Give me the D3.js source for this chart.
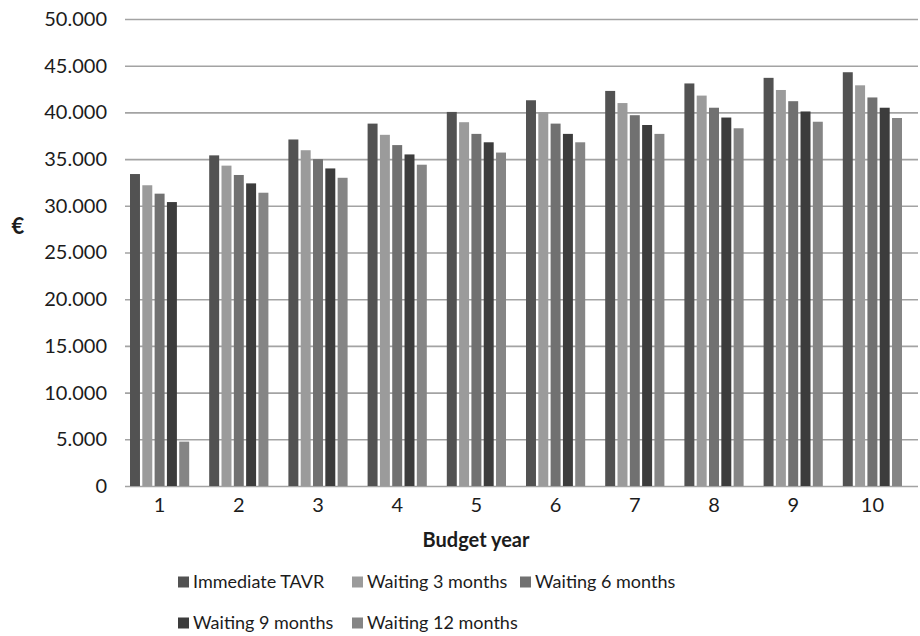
<!DOCTYPE html>
<html>
<head>
<meta charset="utf-8">
<script src="https://cdn.jsdelivr.net/npm/d3@7/dist/d3.min.js"></script>
<style>
  html, body { margin: 0; padding: 0; background: #fff; }
  svg { display: block; }
  text { font-family: Lato, "Open Sans", sans-serif; fill: #1c1c1c; }
</style>
</head>
<body>
<svg id="chart" width="920" height="636"></svg>
<script>
// Budget impact per budget year, by TAVR timing strategy (€)
const years = ["1", "2", "3", "4", "5", "6", "7", "8", "9", "10"];
const seriesNames = ["Immediate TAVR", "Waiting 3 months", "Waiting 6 months", "Waiting 9 months", "Waiting 12 months"];
const immediate = [33400, 35400, 37100, 38800, 40050, 41300, 42300, 43100, 43700, 44300];
const wait3 = [32200, 34300, 35950, 37600, 38950, 40000, 41000, 41800, 42400, 42900];
const wait6 = [31300, 33300, 35000, 36500, 37700, 38800, 39700, 40500, 41200, 41600];
const wait9 = [30400, 32400, 34000, 35500, 36800, 37700, 38650, 39450, 40100, 40500];
const wait12 = [4750, 31400, 33000, 34400, 35700, 36800, 37700, 38300, 39000, 39400];
const yTicks = [0, 5000, 10000, 15000, 20000, 25000, 30000, 35000, 40000, 45000, 50000];
const seriesColors = ["#525252", "#9b9b9b", "#717171", "#3c3c3c", "#858585"];

const seriesValues = [immediate, wait3, wait6, wait9, wait12];
const rows = years.map((yr, i) => ({
  year: yr,
  values: seriesNames.map((s, k) => ({ key: s, value: seriesValues[k][i] }))
}));

const svg = d3.select("#chart");
const plotLeft = 120, plotRight = 912, plotTop = 19, plotBottom = 486;

const x0 = d3.scaleBand().domain(years).range([plotLeft, plotRight])
  .paddingInner(0.2525).paddingOuter(0.12625);
const x1 = d3.scaleBand().domain(seriesNames).range([0, x0.bandwidth()])
  .paddingInner(0.19);
const y = d3.scaleLinear().domain([0, 50000]).range([plotBottom, plotTop]);
const color = d3.scaleOrdinal().domain(seriesNames).range(seriesColors);

const fmt = v => v === 0 ? "0" : d3.format(",")(v).replace(/,/g, ".");

// horizontal gridlines (the 0 line doubles as the category baseline)
const yAxis = d3.axisLeft(y).tickValues(yTicks).tickFormat(fmt)
  .tickSize(-(918 - 125)).tickPadding(18);
const gy = svg.append("g").attr("transform", "translate(125,0)").call(yAxis);
gy.select(".domain").remove();
gy.selectAll(".tick line").attr("stroke", "#a3a3a3").attr("stroke-width", 1.6);
gy.selectAll(".tick text").attr("x", -18).style("font-size", "20px").attr("fill", "#1c1c1c");

// bars
const groups = svg.append("g").selectAll("g").data(rows).join("g")
  .attr("transform", d => `translate(${x0(d.year)},0)`);
groups.selectAll("rect").data(d => d.values).join("rect")
  .attr("x", d => x1(d.key))
  .attr("y", d => y(d.value))
  .attr("width", x1.bandwidth())
  .attr("height", d => y(0) - y(d.value))
  .attr("fill", d => color(d.key));

// category labels
const xAxis = d3.axisBottom(x0).tickSize(0).tickPadding(12);
const gx = svg.append("g").attr("transform", `translate(0,${plotBottom})`).call(xAxis);
gx.select(".domain").remove();
gx.selectAll(".tick text").style("font-size", "20px").attr("fill", "#1c1c1c");

// axis titles
svg.append("text").attr("x", 18).attr("y", 234).attr("text-anchor", "middle")
  .style("font-size", "22px").style("font-weight", "bold").text("€");
svg.append("text").attr("x", 476).attr("y", 547).attr("text-anchor", "middle")
  .style("font-size", "20px").style("font-weight", "bold").text("Budget year");

// legend, two rows
const legendPos = [
  { x: 178, y: 582 }, { x: 352, y: 582 }, { x: 520, y: 582 },
  { x: 178, y: 623 }, { x: 352, y: 623 }
];
const legend = svg.append("g").selectAll("g").data(seriesNames).join("g")
  .attr("transform", (d, i) => `translate(${legendPos[i].x},${legendPos[i].y})`);
legend.append("rect").attr("x", 0).attr("y", -5.5).attr("width", 11).attr("height", 11)
  .attr("fill", d => color(d));
legend.append("text").attr("x", 15).attr("y", 0).attr("dy", "0.35em")
  .style("font-size", "18px").text(d => d);
</script>
</body>
</html>
